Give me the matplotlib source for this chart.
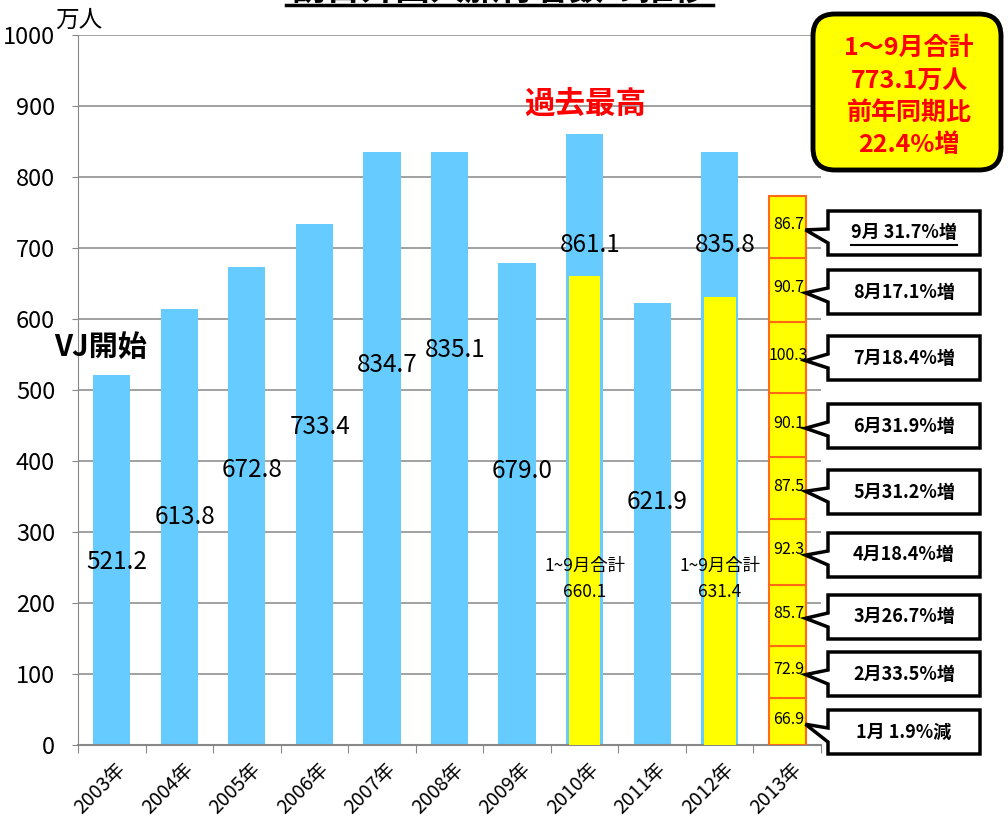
import numpy as np
import matplotlib
matplotlib.use('Agg')
import matplotlib.pyplot as plt
from matplotlib.patches import FancyBboxPatch, Polygon
from matplotlib.transforms import IdentityTransform
from matplotlib.lines import Line2D

plt.rcParams['font.family'] = ['Noto Sans CJK JP', 'DejaVu Sans']

# data
years = ['2003年', '2004年', '2005年', '2006年', '2007年', '2008年',
         '2009年', '2010年', '2011年', '2012年', '2013年']
totals = [521.2, 613.8, 672.8, 733.4, 834.7, 835.1, 679.0, 861.1, 621.9, 835.8]
jan_sep = {7: 660.1, 9: 631.4}   # 1~9月合計 for 2010, 2012
months_2013 = [66.9, 72.9, 85.7, 92.3, 87.5, 90.1, 100.3, 90.7, 86.7]
month_notes = ['1月 1.9%減', '2月33.5%増', '3月26.7%増', '4月18.4%増', '5月31.2%増',
               '6月31.9%増', '7月18.4%増', '8月17.1%増', '9月 31.7%増']
# where the value labels sit (y, data units)
label_y = [258, 321, 387, 448, 535, 556, 386, 704, 342, 704]

W, H = 1008, 819
fig = plt.figure(figsize=(W / 100, H / 100), dpi=100)
ax = fig.add_axes([78 / W, (H - 745) / H, (821 - 78) / W, (745 - 35) / H])

blue = '#66CCFF'
yellow = '#FFFF00'
orange = '#FF6A13'
x = np.arange(len(years))
bw = 0.55

ax.bar(x[:10], totals, width=bw, color=blue, zorder=2)
for i, v in jan_sep.items():
    ax.bar(i, v, width=bw - 0.08, color=yellow, zorder=3)

bottom = 0
seg_mid = []
for v in months_2013:
    ax.bar(10, v, width=bw, bottom=bottom, color=yellow, edgecolor=orange,
           linewidth=1.5, zorder=3)
    seg_mid.append(bottom + v / 2)
    ax.text(10.02, bottom + v / 2 + 3, f'{v:.1f}', ha='center', va='center',
            fontsize=11.5, zorder=5)
    bottom += v

for i, v in enumerate(totals):
    ax.text(i + 0.08, label_y[i], f'{v:.1f}', ha='center', va='center',
            fontsize=17.5, zorder=5)

for i, v in jan_sep.items():
    ax.text(i, 252, '1~9月合計', ha='center', va='center', fontsize=12.5, zorder=5)
    ax.text(i, 216, f'{v:.1f}', ha='center', va='center', fontsize=12.5, zorder=5)

ax.set_xlim(-0.5, 10.5)
ax.set_ylim(0, 1000)
ax.set_yticks(np.arange(0, 1001, 100))
ax.tick_params(axis='y', labelsize=17, length=4.5, color='#888888', pad=12)
ax.set_xticks(np.arange(-0.5, 11, 1))
ax.set_xticklabels([])
ax.tick_params(axis='x', length=6, color='#888888')
for i, lab in enumerate(years):
    ax.text(i + 0.05, -20, lab, rotation=45, ha='right', va='top',
            rotation_mode='anchor', fontsize=14)
ax.grid(axis='y', color='#9a9a9a', linewidth=1.3, zorder=0)
ax.set_axisbelow(True)
for s in ['top', 'right']:
    ax.spines[s].set_visible(False)
ax.spines['left'].set_color('#888888')
ax.spines['bottom'].set_color('#888888')
ax.spines['bottom'].set_linewidth(1.5)

# annotations in image pixels
idt = IdentityTransform()
def P(px, py):
    return (px, H - py)

fig.text(55 / W, 1 - 20 / H, '万人', fontsize=17, va='center', ha='left')
fig.text(101 / W, 1 - 347 / H, 'VJ開始', fontsize=21, fontweight='bold',
         ha='center', va='center')
fig.text(585 / W, 1 - 104 / H, '過去最高', fontsize=22, fontweight='bold',
         color='red', ha='center', va='center')

# title cut off at top edge
fig.text(500 / W, 1 - 1 / H, '訪日外国人旅行者数の推移', fontsize=25, fontweight='bold',
         ha='center', va='baseline')
fig.add_artist(Line2D([286 / W, 713 / W], [1 - 5 / H, 1 - 5 / H], color='black', lw=2.5))

# summary box
box = FancyBboxPatch(P(813, 170), 188, 156, boxstyle='round,pad=0,rounding_size=22',
                     transform=idt, facecolor=yellow, edgecolor='black', lw=3.5)
fig.add_artist(box)
for k, line in enumerate(['1～9月合計', '773.1万人', '前年同期比', '22.4%増']):
    fig.text(909 / W, 1 - (48 + 32.5 * k) / H, line, fontsize=18, fontweight='bold',
             color='red', ha='center', va='center')

# callouts
box_cy = [732, 674, 617, 555, 492, 426, 358, 292, 233]
bx0, bx1, bh = 828, 980, 44
for k, note in enumerate(month_notes):
    tip = ax.transData.transform((10.27, seg_mid[k]))
    cy = H - box_cy[k]
    top = cy + bh / 2
    bot = cy - bh / 2
    pts = [(bx0, top), (bx1, top), (bx1, bot), (bx0, bot),
           (bx0, cy - 10), (tip[0], tip[1] - 3), (bx0, cy + 4)]
    fig.add_artist(Polygon(pts, closed=True, transform=idt, facecolor='white',
                           edgecolor='black', lw=2.5, zorder=6))
    fig.text((bx0 + bx1) / 2 / W, cy / H, note, fontsize=13, fontweight='bold',
             ha='center', va='center', zorder=7)
    if k == 8:
        fig.add_artist(Line2D([851 / W, 957 / W], [(cy - 12) / H, (cy - 12) / H],
                              color='black', lw=1.5, zorder=7))

fig.savefig('out.png', dpi=100)
